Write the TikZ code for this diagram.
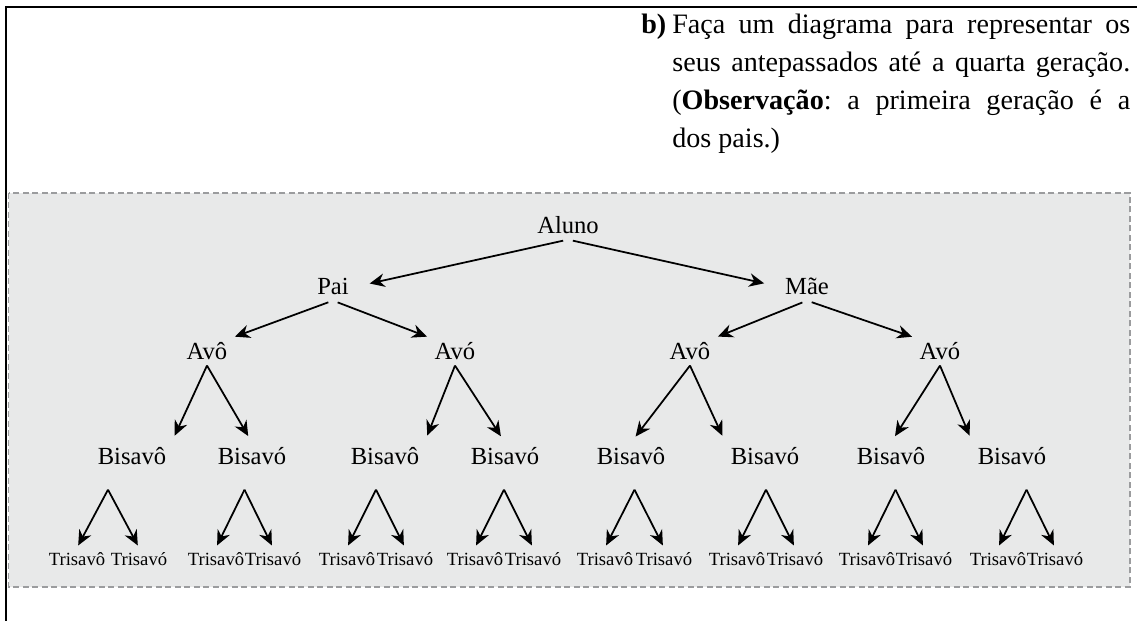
\documentclass[tikz,border=0pt]{standalone}
\usepackage{fontspec}
\setmainfont{Liberation Serif}
\usepackage{tikz}
\usetikzlibrary{calc,arrows.meta}
\definecolor{boxgray}{HTML}{E8E9E9}
\definecolor{dashgray}{HTML}{9B9C9E}
\frenchspacing
\tikzset{
  question/.style={anchor=base west, inner sep=0pt, font=\fontsize{16}{20}\selectfont},
  gen/.style={anchor=base, inner sep=0.1cm, font=\fontsize{14}{16}\selectfont},
  tri/.style={anchor=base, inner sep=0.1cm, font=\fontsize{10.6}{12}\selectfont},
  arr/.style={line width=1pt, -{Stealth[length=3mm,width=2.7mm]}}
}

\begin{document}
\begin{tikzpicture}[x=0.02cm, y=-0.02cm]
			%%%%% START %%%%%
			\useasboundingbox (0,0) rectangle (1137,621);
			
			\draw[dashgray, fill=boxgray, line width=1.1pt, dash pattern=on 0.12cm off 0.07cm] (8.5,193) rectangle (1130,587);
			\draw[line width=1.2pt] (6,621) -- (6,7) -- (1137,7);
			
			\node[question] (q1) at (672,34) {\makebox[0pt][r]{\textbf{b)}\hspace{0.12cm}}\makebox[9.16cm][s]{Faça um diagrama para representar os}};
			\node[question] (q2) at (672,72) {\makebox[9.16cm][s]{seus antepassados até a quarta geração.}};
			\node[question] (q3) at (672,110) {\makebox[9.16cm][s]{(\textbf{Observação}: a primeira geração é a}};
			\node[question] (q4) at (672,148) {dos pais.)};
			
			\node[gen] (aluno) at (568,234) {Aluno};
			\node[gen] (pai) at (333,295) {Pai};
			\node[gen] (mae) at (807,295) {Mãe};
			
			\node[gen] (avo1) at (207,360) {Avô};
			\node[gen] (avo2) at (455,360) {Avó};
			\node[gen] (avo3) at (690,360) {Avô};
			\node[gen] (avo4) at (940,360) {Avó};
			
			\node[gen] (b1) at (132,465) {Bisavô};
			\node[gen] (b2) at (252,465) {Bisavó};
			\node[gen] (b3) at (385,465) {Bisavô};
			\node[gen] (b4) at (505,465) {Bisavó};
			\node[gen] (b5) at (631,465) {Bisavô};
			\node[gen] (b6) at (765,465) {Bisavó};
			\node[gen] (b7) at (891,465) {Bisavô};
			\node[gen] (b8) at (1012,465) {Bisavó};
			
			\node[tri] (t1a) at (77,566) {Trisavô};
			\node[tri] (t1b) at (139,566) {Trisavó};
			\node[tri] (t2a) at (216,566) {Trisavô};
			\node[tri] (t2b) at (273,566) {Trisavó};
			\node[tri] (t3a) at (347,566) {Trisavô};
			\node[tri] (t3b) at (405,566) {Trisavó};
			\node[tri] (t4a) at (475,566) {Trisavô};
			\node[tri] (t4b) at (533,566) {Trisavó};
			\node[tri] (t5a) at (605,566) {Trisavô};
			\node[tri] (t5b) at (664,566) {Trisavó};
			\node[tri] (t6a) at (737,566) {Trisavô};
			\node[tri] (t6b) at (795,566) {Trisavó};
			\node[tri] (t7a) at (867,566) {Trisavô};
			\node[tri] (t7b) at (924,566) {Trisavó};
			\node[tri] (t8a) at (998,566) {Trisavô};
			\node[tri] (t8b) at (1055,566) {Trisavó};
			
			\draw[arr, shorten <=0.1cm, shorten >=0.32cm] (aluno.south) -- (pai.east);
			\draw[arr, shorten <=0.1cm, shorten >=0.32cm] (aluno.south) -- (mae.west);
			
			\draw[arr, shorten <=0.1cm, shorten >=0.05cm] (pai.south) -- (avo1.north east);
			\draw[arr, shorten <=0.1cm, shorten >=0.05cm] (pai.south) -- (avo2.north west);
			\draw[arr, shorten <=0.1cm, shorten >=0.05cm] (mae.south) -- (avo3.north east);
			\draw[arr, shorten <=0.1cm, shorten >=0.05cm] (mae.south) -- (avo4.north west);
			
			\draw[arr, shorten >=0.15cm] (avo1.south) -- (b1.north east);
			\draw[arr, shorten >=0.15cm] (avo1.south) -- (b2.north);
			\draw[arr, shorten >=0.15cm] (avo2.south) -- (b3.north east);
			\draw[arr, shorten >=0.15cm] (avo2.south) -- (b4.north);
			\draw[arr, shorten >=0.15cm] (avo3.south) -- (b5.north);
			\draw[arr, shorten >=0.15cm] (avo3.south) -- (b6.north west);
			\draw[arr, shorten >=0.15cm] (avo4.south) -- (b7.north);
			\draw[arr, shorten >=0.15cm] (avo4.south) -- (b8.north west);
			
			\draw[arr, shorten >=0.05cm] ($(t1a.north)!.5!(t1b.north)+(0,-58)$) -- (t1a.north);
			\draw[arr, shorten >=0.05cm] ($(t1a.north)!.5!(t1b.north)+(0,-58)$) -- (t1b.north);
			\draw[arr, shorten >=0.05cm] ($(t2a.north)!.5!(t2b.north)+(0,-58)$) -- (t2a.north);
			\draw[arr, shorten >=0.05cm] ($(t2a.north)!.5!(t2b.north)+(0,-58)$) -- (t2b.north);
			\draw[arr, shorten >=0.05cm] ($(t3a.north)!.5!(t3b.north)+(0,-58)$) -- (t3a.north);
			\draw[arr, shorten >=0.05cm] ($(t3a.north)!.5!(t3b.north)+(0,-58)$) -- (t3b.north);
			\draw[arr, shorten >=0.05cm] ($(t4a.north)!.5!(t4b.north)+(0,-58)$) -- (t4a.north);
			\draw[arr, shorten >=0.05cm] ($(t4a.north)!.5!(t4b.north)+(0,-58)$) -- (t4b.north);
			\draw[arr, shorten >=0.05cm] ($(t5a.north)!.5!(t5b.north)+(0,-58)$) -- (t5a.north);
			\draw[arr, shorten >=0.05cm] ($(t5a.north)!.5!(t5b.north)+(0,-58)$) -- (t5b.north);
			\draw[arr, shorten >=0.05cm] ($(t6a.north)!.5!(t6b.north)+(0,-58)$) -- (t6a.north);
			\draw[arr, shorten >=0.05cm] ($(t6a.north)!.5!(t6b.north)+(0,-58)$) -- (t6b.north);
			\draw[arr, shorten >=0.05cm] ($(t7a.north)!.5!(t7b.north)+(0,-58)$) -- (t7a.north);
			\draw[arr, shorten >=0.05cm] ($(t7a.north)!.5!(t7b.north)+(0,-58)$) -- (t7b.north);
			\draw[arr, shorten >=0.05cm] ($(t8a.north)!.5!(t8b.north)+(0,-58)$) -- (t8a.north);
			\draw[arr, shorten >=0.05cm] ($(t8a.north)!.5!(t8b.north)+(0,-58)$) -- (t8b.north);
			
			%%%%% END %%%%%
\end{tikzpicture}
\end{document}
